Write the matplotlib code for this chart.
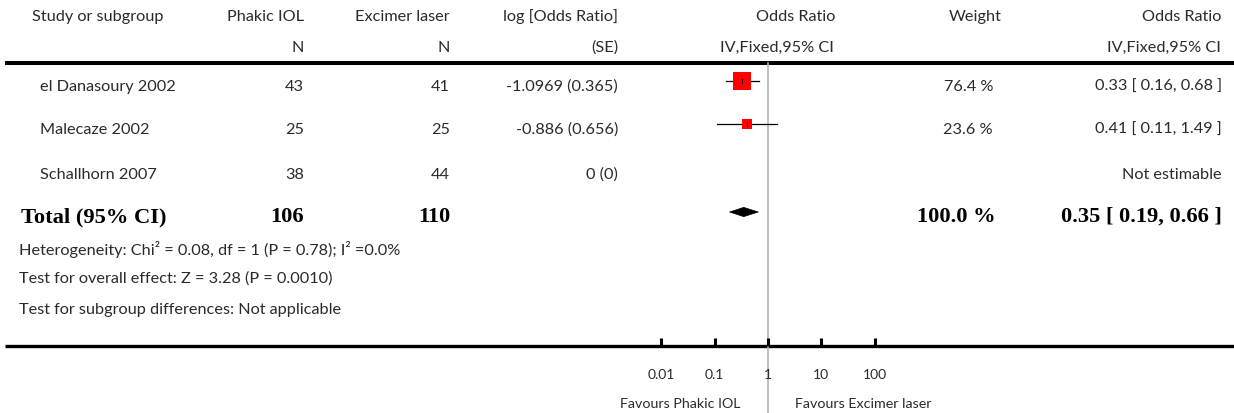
import numpy as np
import matplotlib
matplotlib.use("Agg")
import matplotlib.pyplot as plt
from matplotlib.patches import Polygon

plt.rcParams['font.family'] = ['Lato', 'DejaVu Sans']

# ---- data ----
studies = ['el Danasoury 2002', 'Malecaze 2002', 'Schallhorn 2007']
n_iol = [43, 25, 38]
n_laser = [41, 25, 44]
log_or = [-1.0969, -0.886, 0]
log_se = [0.365, 0.656, 0]
weights = [76.4, 23.6, None]
or_est = [0.33, 0.41, None]
or_lo = [0.16, 0.11, None]
or_hi = [0.68, 1.49, None]

total_iol = 106
total_laser = 110
total_weight = 100.0
total_or = 0.35
total_lo = 0.19
total_hi = 0.66

het_text = 'Heterogeneity: Chi² = 0.08, df = 1 (P = 0.78); I² =0.0%'
overall_text = 'Test for overall effect: Z = 3.28 (P = 0.0010)'
subgroup_text = 'Test for subgroup differences: Not applicable'

axis_ticks = [0.01, 0.1, 1, 10, 100]
axis_ticklabels = ['0.01', '0.1', '1', '10', '100']

# ---- layout (pixels) ----
W, H = 1234, 414
row_y = [87, 130, 175]
total_y = 217
foot_y = [250, 279, 310]
top_line = 64
axis_y = 347
center_px = 768
px_per_decade = 53.3

txt = '#2a2a2a'
fs = 11.7
bold_font = dict(family='Liberation Serif', weight='bold', size=16.2, color='black')

fig = plt.figure(figsize=(W / 100, H / 100), dpi=100)
ax = fig.add_axes([0, 0, 1, 1])
ax.set_xlim(0, W)
ax.set_ylim(H, 0)
ax.axis('off')

# header
ax.text(32, 17, 'Study or subgroup', ha='left', va='center', fontsize=fs, color=txt)
ax.text(304, 17, 'Phakic IOL', ha='right', va='center', fontsize=fs, color=txt)
ax.text(304, 48, 'N', ha='right', va='center', fontsize=fs, color=txt)
ax.text(450, 17, 'Excimer laser', ha='right', va='center', fontsize=fs, color=txt)
ax.text(450, 48, 'N', ha='right', va='center', fontsize=fs, color=txt)
ax.text(618, 17, 'log [Odds Ratio]', ha='right', va='center', fontsize=fs, color=txt)
ax.text(618, 48, '(SE)', ha='right', va='center', fontsize=fs, color=txt)
ax.text(796, 17, 'Odds Ratio', ha='center', va='center', fontsize=fs, color=txt)
ax.text(777, 48, 'IV,Fixed,95% CI', ha='center', va='center', fontsize=fs, color=txt)
ax.text(975, 17, 'Weight', ha='center', va='center', fontsize=fs, color=txt)
ax.text(1221, 17, 'Odds Ratio', ha='right', va='center', fontsize=fs, color=txt)
ax.text(1221, 48, 'IV,Fixed,95% CI', ha='right', va='center', fontsize=fs, color=txt)

ax.plot([5, W], [top_line, top_line], color='black', lw=2.9, solid_capstyle='butt')
ax.plot([5, W], [axis_y, axis_y], color='black', lw=2.4, solid_capstyle='butt')

# study rows
for i, name in enumerate(studies):
    y = row_y[i]
    ax.text(40, y, name, ha='left', va='center', fontsize=fs, color=txt)
    ax.text(304, y, str(n_iol[i]), ha='right', va='center', fontsize=fs, color=txt)
    ax.text(450, y, str(n_laser[i]), ha='right', va='center', fontsize=fs, color=txt)
    ax.text(618, y, f'{log_or[i]} ({log_se[i]})', ha='right', va='center', fontsize=fs, color=txt)
    if weights[i] is None:
        ax.text(1222, y, 'Not estimable', ha='right', va='center', fontsize=fs, color=txt)
    else:
        ax.text(993, y, f'{weights[i]:.1f} %', ha='right', va='center', fontsize=fs, color=txt)
        ax.text(1222, y, f'{or_est[i]:.2f} [ {or_lo[i]:.2f}, {or_hi[i]:.2f} ]',
                ha='right', va='center', fontsize=fs, color=txt)

# total row
ax.text(21, total_y, 'Total (95% CI)', ha='left', va='center', **bold_font)
ax.text(304, total_y, str(total_iol), ha='right', va='center', **bold_font)
ax.text(450, total_y, str(total_laser), ha='right', va='center', **bold_font)
ax.text(996, total_y, f'{total_weight:.1f} %', ha='right', va='center', **bold_font)
ax.text(1222, total_y, f'{total_or:.2f} [ {total_lo:.2f}, {total_hi:.2f} ]',
        ha='right', va='center', **bold_font)

for y, s in zip(foot_y, [het_text, overall_text, subgroup_text]):
    ax.text(19, y, s, ha='left', va='center', fontsize=fs, color=txt)

ax.text(741, 404, 'Favours Phakic IOL', ha='right', va='center', fontsize=10.3, color=txt)
ax.text(795, 404, 'Favours Excimer laser', ha='left', va='center', fontsize=10.3, color=txt)

# ---- forest panel on a log axis ----
half = 170
left_px, right_px = center_px - half, center_px + half
fa = fig.add_axes([left_px / W, 1 - axis_y / H, (right_px - left_px) / W, (axis_y - top_line) / H])
fa.set_xscale('log')
lim = 10 ** (half / px_per_decade)
fa.set_xlim(1 / lim, lim)
fa.set_ylim(axis_y, top_line)
fa.patch.set_alpha(0)
for sp in fa.spines.values():
    sp.set_visible(False)
fa.set_yticks([])
fa.set_xticks(axis_ticks)
fa.set_xticklabels(axis_ticklabels)
fa.minorticks_off()
fa.tick_params(axis='x', direction='in', length=6, width=2.2, color='black',
               labelsize=10, labelcolor=txt, pad=15.5)

# no-effect line
fa.axvline(1, ymin=-(H - axis_y) / (axis_y - top_line), ymax=1, color='#b4b4b4',
           lw=1.2, clip_on=False, zorder=1)

mk_off = 5
for i in range(len(studies)):
    if weights[i] is None:
        continue
    y = row_y[i] - mk_off
    fa.plot([or_lo[i], or_hi[i]], [y, y], color='black', lw=0.9, zorder=2)
    fa.scatter([or_est[i]], [y], marker='s', s=2.32 * weights[i], color='#ff0000',
               linewidths=0, zorder=3)
    fa.plot([or_est[i], or_est[i]], [y - 2, y + 2], color='black', lw=0.7, zorder=4)

ty = total_y - 4
dh = 4.6
diamond = Polygon([(total_lo, ty), (total_or, ty - dh), (total_hi, ty), (total_or, ty + dh)],
                  closed=True, facecolor='black', edgecolor='black', lw=0.5, zorder=3)
fa.add_patch(diamond)

fig.savefig('out.png', dpi=100)
